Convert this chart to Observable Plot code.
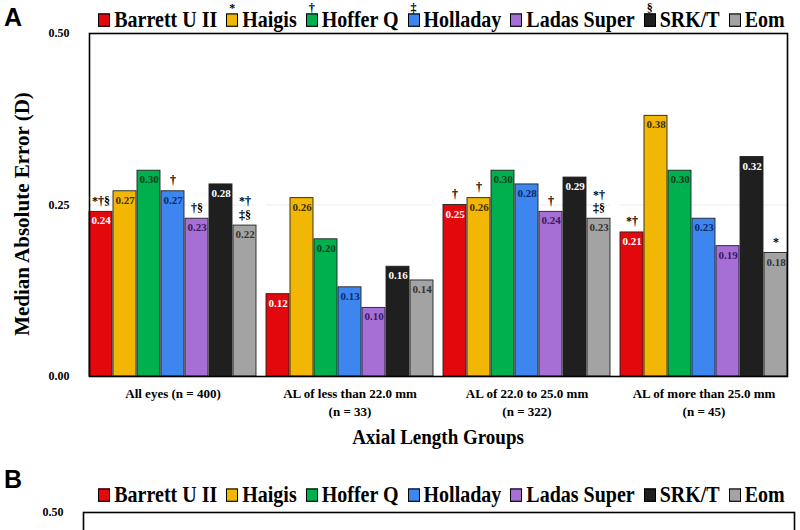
<!DOCTYPE html>
<html>
<head>
<meta charset="utf-8">
<script src="https://cdn.jsdelivr.net/npm/d3@7"></script>
<script src="https://cdn.jsdelivr.net/npm/@observablehq/plot@0.6"></script>
<style>
  html, body { margin: 0; padding: 0; background: #fff; width: 800px; height: 530px; overflow: hidden; }
  #page { position: relative; width: 800px; height: 530px; font-family: "Liberation Serif", "Times New Roman", serif; font-weight: bold; color: #000; }
  .panel-letter { position: absolute; left: 4px; font-family: "Liberation Sans", Arial, sans-serif; font-weight: bold; font-size: 25px; line-height: 1; }
  .legend { position: absolute; left: 0; width: 883px; display: flex; justify-content: center; align-items: center; font-size: 20px; line-height: 1; white-space: nowrap; transform: scaleY(1.12); }
  .legend .item { display: flex; align-items: center; margin: 0 4.5px; }
  .legend .sw { position: relative; width: 10px; height: 10px; border: 1px solid #000; margin-right: 4px; margin-top: 2px; }
  .legend .sym { position: absolute; left: 50%; bottom: 11px; transform: translateX(-50%); font-size: 12px; line-height: 10px; }
  .ytitle { position: absolute; left: 22px; top: 214px; transform: translate(-50%, -50%) rotate(-90deg); font-size: 21px; white-space: nowrap; }
  .xtitle { position: absolute; left: 438px; top: 437px; transform: translate(-50%, -50%) scaleY(1.1); font-size: 19px; white-space: nowrap; }
  svg { position: absolute; left: 0; }
</style>
</head>
<body>
<div id="page"></div>
<script>
// ---- data ----
const groups = [
  "All eyes (n = 400)",
  "AL of less than 22.0 mm\n(n = 33)",
  "AL of 22.0 to 25.0 mm\n(n = 322)",
  "AL of more than 25.0 mm\n(n = 45)"
];
const formulas = ["Barrett U II", "Haigis", "Hoffer Q", "Holladay", "Ladas Super", "SRK/T", "Eom"];
const legendSymbols = ["", "*", "†", "‡", "", "§", ""];
const colors = ["#e3080c", "#f2b705", "#00b04f", "#3d86f0", "#a66fd6", "#1f1f1f", "#a3a3a3"];
const labelColors = ["#ffffff", "#3d2c00", "#083d1c", "#0b2a66", "#3a1a5c", "#ffffff", "#333333"];

const barrettU2 = [0.24, 0.12, 0.25, 0.21];
const haigis    = [0.27, 0.26, 0.26, 0.38];
const hofferQ   = [0.30, 0.20, 0.30, 0.30];
const holladay  = [0.27, 0.13, 0.28, 0.23];
const ladas     = [0.23, 0.10, 0.24, 0.19];
const srkt      = [0.28, 0.16, 0.29, 0.32];
const eom       = [0.22, 0.14, 0.23, 0.18];

const barrettSig  = ["*†§", "", "†", "*†"];
const haigisSig   = ["", "", "†", ""];
const hofferSig   = ["", "", "", ""];
const holladaySig = ["†", "", "", ""];
const ladasSig    = ["†§", "", "†", ""];
const srktSig     = ["", "", "", ""];
const eomSig      = ["*†\n‡§", "", "*†\n‡§", "*"];

const yTicks = [0, 0.25, 0.5];
const yTicksVisibleB = [0.5];

// ---- table built from arrays ----
const seriesVals = [barrettU2, haigis, hofferQ, holladay, ladas, srkt, eom];
const seriesSig = [barrettSig, haigisSig, hofferSig, holladaySig, ladasSig, srktSig, eomSig];
const rows = [];
groups.forEach((g, gi) => formulas.forEach((f, fi) => {
  rows.push({group: g, formula: f, value: seriesVals[fi][gi], sig: seriesSig[fi][gi], fi});
}));

const page = document.getElementById("page");

function legend(top, withSymbols) {
  const lg = document.createElement("div");
  lg.className = "legend";
  lg.style.top = top + "px";
  formulas.forEach((f, i) => {
    const it = document.createElement("div");
    it.className = "item";
    const sw = document.createElement("span");
    sw.className = "sw";
    sw.style.background = colors[i];
    if (withSymbols && legendSymbols[i]) {
      const s = document.createElement("span");
      s.className = "sym";
      s.textContent = legendSymbols[i];
      sw.appendChild(s);
    }
    it.appendChild(sw);
    const t = document.createElement("span");
    t.textContent = f;
    it.appendChild(t);
    lg.appendChild(it);
  });
  page.appendChild(lg);
}

// ---- Panel A ----
const textMarks = formulas.map((f, i) => Plot.text(rows.filter(d => d.fi === i), {
  fx: "group", x: "formula", y: "value", text: d => d.value.toFixed(2),
  fill: labelColors[i], dy: 9, fontSize: 11, fontWeight: "bold"
}));

const chartA = Plot.plot({
  width: 800,
  height: 470,
  marginTop: 33,
  marginBottom: 94,
  marginLeft: 83,
  marginRight: 6,
  style: {fontFamily: "'Liberation Serif', 'Times New Roman', serif", fontWeight: "bold", background: "transparent"},
  fx: {domain: groups, paddingInner: 0.056, paddingOuter: 0.028, label: null},
  x: {domain: formulas, paddingInner: 0.05, paddingOuter: 0, axis: null},
  y: {domain: [0, 0.5], label: null},
  color: {domain: formulas, range: colors},
  marks: [
    Plot.gridY(yTicks.filter(t => t > 0 && t < 0.5), {stroke: "#ececec", strokeOpacity: 1}),
    Plot.barY(rows, {fx: "group", x: "formula", y: "value", fill: "formula", stroke: "#222", strokeWidth: 0.9}),
    ...textMarks,
    Plot.text(rows, {fx: "group", x: "formula", y: "value", text: "sig", dy: -7, lineAnchor: "bottom", lineHeight: 1.1, fontSize: 12, fill: "#000"}),
    Plot.axisY(yTicks, {tickFormat: d => d.toFixed(2), tickSize: 0, tickPadding: 20, fontSize: 12, label: null}),
    Plot.axisFx({anchor: "bottom", tickSize: 0, tickPadding: 9, fontSize: 13, lineHeight: 1.35, label: null}),
    Plot.frame({stroke: "#000", strokeWidth: 1.6, facet: "super"})
  ]
});
chartA.style.top = "0px";
page.appendChild(chartA);

// ---- Panel B (only its top edge is visible) ----
const chartB = Plot.plot({
  width: 800,
  height: 300,
  marginTop: 12,
  marginBottom: 40,
  marginLeft: 83,
  marginRight: 6,
  style: {fontFamily: "'Liberation Serif', 'Times New Roman', serif", fontWeight: "bold", background: "transparent"},
  y: {domain: [0, 0.5], label: null},
  marks: [
    Plot.axisY(yTicksVisibleB, {tickFormat: d => d.toFixed(2), tickSize: 0, tickPadding: 20, fontSize: 12, label: null}),
    Plot.frame({stroke: "#000", strokeWidth: 1.6})
  ]
});
chartB.style.top = "500px";
page.appendChild(chartB);

// ---- html text ----
const la = document.createElement("div"); la.className = "panel-letter"; la.style.top = "5px"; la.textContent = "A"; page.appendChild(la);
const lb = document.createElement("div"); lb.className = "panel-letter"; lb.style.top = "467px"; lb.textContent = "B"; page.appendChild(lb);
legend(9, true);
legend(484, false);
const yt = document.createElement("div"); yt.className = "ytitle"; yt.textContent = "Median Absolute Error (D)"; page.appendChild(yt);
const xt = document.createElement("div"); xt.className = "xtitle"; xt.textContent = "Axial Length Groups"; page.appendChild(xt);
</script>
</body>
</html>
